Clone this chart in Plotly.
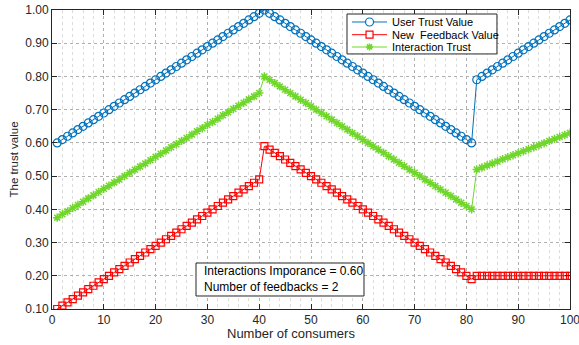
import plotly.graph_objects as go

consumers = list(range(1, 101))

user_trust = [
    0.60, 0.61, 0.62, 0.63, 0.64, 0.65, 0.66, 0.67, 0.68, 0.69,
    0.70, 0.71, 0.72, 0.73, 0.74, 0.75, 0.76, 0.77, 0.78, 0.79,
    0.80, 0.81, 0.82, 0.83, 0.84, 0.85, 0.86, 0.87, 0.88, 0.89,
    0.90, 0.91, 0.92, 0.93, 0.94, 0.95, 0.96, 0.97, 0.98, 0.99,
    1.00, 0.99, 0.98, 0.97, 0.96, 0.95, 0.94, 0.93, 0.92, 0.91,
    0.90, 0.89, 0.88, 0.87, 0.86, 0.85, 0.84, 0.83, 0.82, 0.81,
    0.80, 0.79, 0.78, 0.77, 0.76, 0.75, 0.74, 0.73, 0.72, 0.71,
    0.70, 0.69, 0.68, 0.67, 0.66, 0.65, 0.64, 0.63, 0.62, 0.61,
    0.60, 0.79, 0.80, 0.81, 0.82, 0.83, 0.84, 0.85, 0.86, 0.87,
    0.88, 0.89, 0.90, 0.91, 0.92, 0.93, 0.94, 0.95, 0.96, 0.97,
]

new_feedback = [
    0.10, 0.11, 0.12, 0.13, 0.14, 0.15, 0.16, 0.17, 0.18, 0.19,
    0.20, 0.21, 0.22, 0.23, 0.24, 0.25, 0.26, 0.27, 0.28, 0.29,
    0.30, 0.31, 0.32, 0.33, 0.34, 0.35, 0.36, 0.37, 0.38, 0.39,
    0.40, 0.41, 0.42, 0.43, 0.44, 0.45, 0.46, 0.47, 0.48, 0.49,
    0.59, 0.58, 0.57, 0.56, 0.55, 0.54, 0.53, 0.52, 0.51, 0.50,
    0.49, 0.48, 0.47, 0.46, 0.45, 0.44, 0.43, 0.42, 0.41, 0.40,
    0.39, 0.38, 0.37, 0.36, 0.35, 0.34, 0.33, 0.32, 0.31, 0.30,
    0.29, 0.28, 0.27, 0.26, 0.25, 0.24, 0.23, 0.22, 0.21, 0.20,
    0.19, 0.20, 0.20, 0.20, 0.20, 0.20, 0.20, 0.20, 0.20, 0.20,
    0.20, 0.20, 0.20, 0.20, 0.20, 0.20, 0.20, 0.20, 0.20, 0.20,
]

interaction_trust = [
    0.375, 0.385, 0.394, 0.404, 0.413, 0.423, 0.433, 0.442, 0.452, 0.462,
    0.471, 0.481, 0.490, 0.500, 0.510, 0.519, 0.529, 0.538, 0.548, 0.558,
    0.567, 0.577, 0.587, 0.596, 0.606, 0.615, 0.625, 0.635, 0.644, 0.654,
    0.663, 0.673, 0.683, 0.692, 0.702, 0.712, 0.721, 0.731, 0.740, 0.750,
    0.80, 0.79, 0.78, 0.77, 0.76, 0.75, 0.74, 0.73, 0.72, 0.71,
    0.70, 0.69, 0.68, 0.67, 0.66, 0.65, 0.64, 0.63, 0.62, 0.61,
    0.60, 0.59, 0.58, 0.57, 0.56, 0.55, 0.54, 0.53, 0.52, 0.51,
    0.50, 0.49, 0.48, 0.47, 0.46, 0.45, 0.44, 0.43, 0.42, 0.41,
    0.40, 0.520, 0.526, 0.532, 0.538, 0.544, 0.551, 0.557, 0.563, 0.569,
    0.575, 0.581, 0.587, 0.593, 0.599, 0.606, 0.612, 0.618, 0.624, 0.630,
]

series_names = ["User Trust Value", "New  Feedback Value", "Interaction Trust"]
x_ticks = [0, 10, 20, 30, 40, 50, 60, 70, 80, 90, 100]
y_ticks = [0.10, 0.20, 0.30, 0.40, 0.50, 0.60, 0.70, 0.80, 0.90, 1.00]
note_lines = ["Interactions Imporance = 0.60", "Number of feedbacks = 2"]

FONT = "Liberation Sans, Arial, sans-serif"
INK = "#262626"
BLUE = "#0072BD"
RED = "#FF0000"
GREEN = "#6FD62A"

fig = go.Figure()
fig.add_trace(go.Scatter(
    x=consumers, y=user_trust, name=series_names[0], mode="lines+markers",
    line=dict(color=BLUE, width=1),
    marker=dict(symbol="circle-open", size=8, color=BLUE, line=dict(width=1.2, color=BLUE)),
))
fig.add_trace(go.Scatter(
    x=consumers, y=new_feedback, name=series_names[1], mode="lines+markers",
    line=dict(color=RED, width=1),
    marker=dict(symbol="square-open", size=7, color=RED, line=dict(width=1.2, color=RED)),
))
fig.add_trace(go.Scatter(
    x=consumers, y=interaction_trust, name=series_names[2], mode="lines+markers",
    line=dict(color=GREEN, width=1),
    marker=dict(symbol="asterisk-open", size=7, color=GREEN, line=dict(width=1.5, color=GREEN)),
))

axis_common = dict(
    showline=True, linecolor=INK, linewidth=1, mirror="ticks",
    ticks="inside", ticklen=5, tickcolor=INK,
    showgrid=True, gridcolor="#b0b0b0", griddash="dot", gridwidth=1,
    zeroline=False, automargin=False, ticklabeloverflow="allow",
    tickfont=dict(family=FONT, size=12, color=INK),
)

fig.update_xaxes(
    range=[0, 100], tickvals=x_ticks, ticktext=[str(v) for v in x_ticks],
    minor=dict(dtick=2, showgrid=True, gridcolor="#dcdcdc", griddash="dot", gridwidth=1, ticks=""),
    **axis_common,
)
fig.update_yaxes(
    range=[0.10, 1.00], tickvals=y_ticks, ticktext=[f"{v:.2f}" for v in y_ticks],
    **axis_common,
)

# Axis titles
fig.add_annotation(
    xref="paper", yref="paper", x=0.461, y=-0.0836, xanchor="center", yanchor="middle",
    text="Number of consumers", showarrow=False,
    font=dict(family=FONT, size=13, color=INK),
)
fig.add_annotation(
    xref="paper", yref="paper", x=-0.0734, y=0.5, xanchor="center", yanchor="middle",
    text="The trust value", showarrow=False, textangle=-90,
    font=dict(family=FONT, size=11.5, color=INK),
)

# Info box
fig.add_shape(type="rect", xref="paper", yref="paper", x0=0.278, x1=0.6023, y0=0.0435, y1=0.1538,
              line=dict(color=INK, width=1), fillcolor="white", layer="above")
fig.add_annotation(
    xref="paper", yref="paper", x=0.2896, y=0.1003, xanchor="left", yanchor="middle",
    text="<br>".join(note_lines), showarrow=False, align="left",
    font=dict(family=FONT, size=12, color="#000000"),
)

# Custom legend (compact, MATLAB-like)
fig.add_shape(type="rect", xref="paper", yref="paper", x0=0.5695, x1=0.859, y0=0.853, y1=0.9866,
              line=dict(color=INK, width=1), fillcolor="white", layer="above")
row_y = [0.9599, 0.9174, 0.8763]
colors = [BLUE, RED, GREEN]
lx0, lx1, mx, tx = 0.579, 0.6467, 0.613, 0.6525
for name, col, yy, kind in zip(series_names, colors, row_y, ["circle", "square", "asterisk"]):
    fig.add_shape(type="line", xref="paper", yref="paper", x0=lx0, x1=lx1, y0=yy, y1=yy,
                  line=dict(color=col, width=1), layer="above")
    if kind == "circle":
        fig.add_shape(type="circle", xref="paper", yref="paper", xsizemode="pixel", ysizemode="pixel",
                      xanchor=mx, yanchor=yy, x0=-4, x1=4, y0=-4, y1=4,
                      line=dict(color=col, width=1.2), fillcolor="white", layer="above")
    elif kind == "square":
        fig.add_shape(type="rect", xref="paper", yref="paper", xsizemode="pixel", ysizemode="pixel",
                      xanchor=mx, yanchor=yy, x0=-3.5, x1=3.5, y0=-3.5, y1=3.5,
                      line=dict(color=col, width=1.2), fillcolor="white", layer="above")
    else:
        fig.add_shape(type="path", xref="paper", yref="paper", xsizemode="pixel", ysizemode="pixel",
                      xanchor=mx, yanchor=yy,
                      path="M-3.5,0 L3.5,0 M0,-3.5 L0,3.5 M-2.6,-2.6 L2.6,2.6 M-2.6,2.6 L2.6,-2.6",
                      line=dict(color=col, width=1.5), layer="above")
    fig.add_annotation(
        xref="paper", yref="paper", x=tx, y=yy, xanchor="left", yanchor="middle",
        text=name.replace("  ", "&nbsp; "), showarrow=False,
        font=dict(family=FONT, size=11, color="#000000"),
    )

fig.update_layout(
    width=579, height=345,
    margin=dict(l=52, r=9, t=10, b=36),
    paper_bgcolor="white", plot_bgcolor="white",
    font=dict(family=FONT, size=12, color=INK),
    showlegend=False,
)

fig.write_html(
    "out.html",
    config={"displayModeBar": False},
    post_script="document.body.style.margin='0';document.body.style.padding='0';document.body.style.overflow='hidden';",
)
